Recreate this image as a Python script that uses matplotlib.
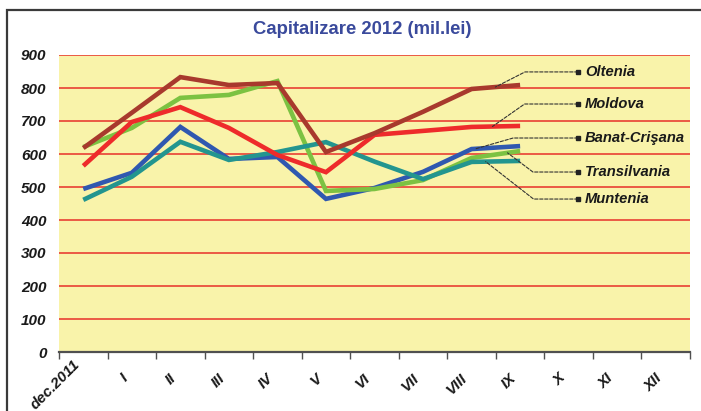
import numpy as np
import matplotlib
matplotlib.use("Agg")
import matplotlib.pyplot as plt
from matplotlib.patches import Rectangle
from matplotlib.transforms import offset_copy

# ---- data ----
categories = ['dec.2011', 'I', 'II', 'III', 'IV', 'V', 'VI', 'VII', 'VIII',
              'IX', 'X', 'XI', 'XII']
oltenia = [618, 725, 833, 809, 815, 606, 663, 728, 797, 809]
moldova = [564, 697, 742, 679, 597, 545, 658, 670, 682, 685]
banat_crisana = [494, 543, 682, 585, 591, 464, 497, 546, 615, 624]
transilvania = [621, 679, 770, 779, 821, 488, 494, 521, 588, 609]
muntenia = [461, 531, 637, 582, 606, 636, 577, 524, 576, 579]
y_ticks = [0, 100, 200, 300, 400, 500, 600, 700, 800, 900]
title = 'Capitalizare 2012 (mil.lei)'

FONT = ['Liberation Sans Narrow', 'Liberation Sans', 'DejaVu Sans']

W, H = 701, 411
fig = plt.figure(figsize=(W / 100, H / 100), dpi=100)
fig.patch.set_facecolor('white')

# outer frame
fig.patches.append(Rectangle((7 / W, -0.2), 1.2, (411 - 10) / H + 0.2,
                             transform=fig.transFigure, fill=False,
                             edgecolor='#3a3a3a', linewidth=1.6, clip_on=False))

L, R, B, T = 59, 690, 352, 55
ax = fig.add_axes([L / W, (H - B) / H, (R - L) / W, (B - T) / H])
ax.set_facecolor('#f9f3aa')
ax.set_xlim(-0.5, len(categories) - 0.5)
ax.set_ylim(0, 900)

for v in y_ticks[1:]:
    ax.axhline(v, color='#e8302a', lw=1.1, zorder=1)

for s in ['top', 'right', 'left']:
    ax.spines[s].set_visible(False)
ax.spines['bottom'].set_color('#505050')
ax.spines['bottom'].set_linewidth(1.6)

ax.set_yticks(y_ticks)
ax.set_yticklabels([str(v) for v in y_ticks], family=FONT, fontsize=11,
                   fontweight='bold', style='italic', color='#1a1a1a')
ax.tick_params(axis='y', length=0, pad=9)

x = np.arange(len(categories))
ax.set_xticks(np.arange(len(categories) + 1) - 0.5)
ax.set_xticklabels([])
ax.tick_params(axis='x', which='major', direction='out', length=5, width=1,
               color='#505050')

# category labels, rotated 45 degrees
for i, lab in enumerate(categories):
    dy = -5 if i == 0 else -19
    tr = offset_copy(ax.get_xaxis_transform(), fig=fig, x=-11, y=dy,
                     units='dots')
    ax.text(i, 0, lab, transform=tr, rotation=45, ha='right', va='top',
            rotation_mode='anchor', family=FONT, fontsize=11,
            fontweight='bold', style='italic', color='#1a1a1a', clip_on=False)

series = [
    ('Banat-Crişana', banat_crisana, '#2f58b0'),
    ('Transilvania', transilvania, '#7cc242'),
    ('Muntenia', muntenia, '#23958f'),
    ('Moldova', moldova, '#ee2b2b'),
    ('Oltenia', oltenia, '#a8392d'),
]
for name, vals, col in series:
    ax.plot(x[:len(vals)], vals, color=col, lw=3.3, solid_joinstyle='miter',
            solid_capstyle='butt', zorder=3)

# leader-line labels: (name, values, position along line, label y (axes frac), angle)
leaders = [
    ('Oltenia', oltenia, 8.49, 0.943, 27),
    ('Moldova', moldova, 8.43, 0.835, 35),
    ('Banat-Crişana', banat_crisana, 8.08, 0.7205, 16),
    ('Transilvania', transilvania, 8.74, 0.606, -37),
    ('Muntenia', muntenia, 8.29, 0.515, -38),
]
sq_x = (578 - L) / (R - L)
txt_x = (585 - L) / (R - L)
for name, vals, pos, ly, ang in leaders:
    py = np.interp(pos, x[:len(vals)], vals)
    ax.annotate('', xy=(pos, py), xycoords='data',
                xytext=(sq_x, ly), textcoords='axes fraction',
                arrowprops=dict(arrowstyle='-', color='#333333', lw=0.8,
                                linestyle=(0, (3, 1.5)), shrinkA=0, shrinkB=0,
                                connectionstyle=f'angle,angleA=0,angleB={ang},rad=0'),
                zorder=4)
    ax.plot([sq_x], [ly], marker='s', ms=3.2, color='#222222',
            transform=ax.transAxes, zorder=5, clip_on=False)
    ax.text(txt_x, ly, name, transform=ax.transAxes, ha='left', va='center',
            family=FONT, fontsize=10.6, fontweight='bold', style='italic',
            color='#1a1a1a', zorder=5)

fig.text(362 / W, 1 - 30 / H, title, ha='center', va='center',
         family=FONT, fontsize=13.3, fontweight='bold', color='#3a4a9c')

fig.savefig('out.png', dpi=100)
